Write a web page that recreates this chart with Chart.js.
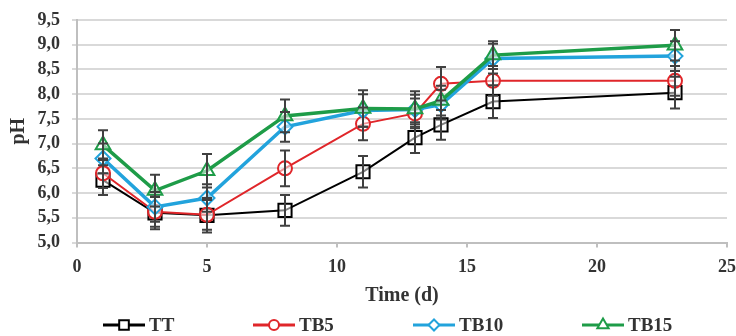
<!DOCTYPE html>
<html><head><meta charset="utf-8">
<script src="https://cdn.jsdelivr.net/npm/chart.js@4"></script>
<style>html,body{margin:0;padding:0;background:#fff}</style>
</head><body>
<canvas id="c" width="736" height="336"></canvas>
<script>
const days = [1, 3, 5, 8, 11, 13, 14, 16, 23];
const seriesNames = ['TT', 'TB5', 'TB10', 'TB15'];
const ttPH   = [6.26, 5.60, 5.55, 5.65, 6.43, 7.12, 7.38, 7.85, 8.03];
const tb5PH  = [6.40, 5.62, 5.56, 6.50, 7.40, 7.61, 8.21, 8.27, 8.27];
const tb10PH = [6.70, 5.72, 5.90, 7.34, 7.67, 7.69, 7.79, 8.72, 8.77];
const tb15PH = [6.97, 6.05, 6.45, 7.56, 7.71, 7.70, 7.87, 8.79, 8.99];
const ttErr   = [0.30, 0.33, 0.35, 0.31, 0.32, 0.31, 0.30, 0.33, 0.32];
const tb5Err  = [0.30, 0.30, 0.30, 0.36, 0.33, 0.30, 0.34, 0.30, 0.30];
const tb10Err = [0.30, 0.30, 0.28, 0.30, 0.33, 0.30, 0.30, 0.30, 0.30];
const tb15Err = [0.30, 0.32, 0.34, 0.33, 0.37, 0.36, 0.30, 0.28, 0.31];
const yTicks = [5.0, 5.5, 6.0, 6.5, 7.0, 7.5, 8.0, 8.5, 9.0, 9.5];

const FONT = "'Liberation Serif','Times New Roman',serif";
const TXT = '#333333';

const styles = [
  {color: '#000000', width: 2,   point: 'rect',     radius: 9.3, legR: 6.8},
  {color: '#e0262a', width: 2,   point: 'circle',   radius: 7,   legR: 5},
  {color: '#22a3dc', width: 3.5, point: 'rectRot',  radius: 7.5, legR: 5.5},
  {color: '#1e9c48', width: 3.5, point: 'triangle', radius: 8.5, legR: 6.5}
];
const values = [ttPH, tb5PH, tb10PH, tb15PH];
const errors = [ttErr, tb5Err, tb10Err, tb15Err];

const datasets = seriesNames.map((name, k) => ({
  label: name,
  data: days.map((d, i) => ({x: d, y: values[k][i]})),
  errors: errors[k],
  borderColor: styles[k].color,
  borderWidth: styles[k].width,
  pointStyle: styles[k].point,
  pointRadius: styles[k].radius,
  pointBorderWidth: 2,
  pointBorderColor: styles[k].color,
  pointBackgroundColor: 'rgba(255,255,255,0.5)',
  tension: 0,
  fill: false,
  order: 4 - k
}));

const stretchRight = {
  id: 'stretchRight',
  afterLayout(chart) {
    const a = chart.chartArea, xs = chart.scales.x;
    const r = chart.width - 9;
    a.right = r; a.width = r - a.left;
    xs.right = r; xs.width = r - xs.left;
    xs.configure();
  }
};

const errorBars = {
  id: 'errorBars',
  afterDatasetsDraw(chart) {
    const ctx = chart.ctx, xs = chart.scales.x, ys = chart.scales.y;
    ctx.save();
    ctx.strokeStyle = '#404040';
    ctx.lineWidth = 2;
    chart.data.datasets.forEach(ds => {
      ds.data.forEach((p, i) => {
        const e = ds.errors[i];
        const px = xs.getPixelForValue(p.x);
        const t = ys.getPixelForValue(p.y + e);
        const b = ys.getPixelForValue(p.y - e);
        ctx.beginPath();
        ctx.moveTo(px, t); ctx.lineTo(px, b);
        ctx.moveTo(px - 5, t); ctx.lineTo(px + 5, t);
        ctx.moveTo(px - 5, b); ctx.lineTo(px + 5, b);
        ctx.stroke();
      });
    });
    ctx.restore();
  }
};

const legendStarts = [103, 253, 413, 582];
const customLegend = {
  id: 'customLegend',
  afterDraw(chart) {
    const ctx = chart.ctx;
    const cy = 325;
    ctx.save();
    ctx.font = 'bold 19px ' + FONT;
    ctx.textBaseline = 'middle';
    seriesNames.forEach((name, k) => {
      const s = styles[k];
      const x0 = legendStarts[k];
      ctx.strokeStyle = s.color;
      ctx.lineWidth = 3;
      ctx.beginPath(); ctx.moveTo(x0, cy); ctx.lineTo(x0 + 42, cy); ctx.stroke();
      ctx.fillStyle = '#ffffff';
      ctx.lineWidth = 2;
      Chart.helpers.drawPoint(ctx, {pointStyle: s.point, radius: s.legR, rotation: 0, borderWidth: 2}, x0 + 21, cy);
      ctx.fillStyle = TXT;
      ctx.fillText(name, x0 + 46, cy + 1);
    });
    ctx.restore();
  }
};

new Chart(document.getElementById('c'), {
  type: 'line',
  data: {datasets},
  plugins: [stretchRight, errorBars, customLegend],
  options: {
    responsive: false,
    animation: false,
    layout: {padding: {left: 1, right: 0, top: 20, bottom: 28}},
    plugins: {legend: {display: false}, tooltip: {enabled: false}},
    scales: {
      x: {
        type: 'linear', min: 0, max: 25,
        afterFit(scale) { scale.height = 65.5; },
        ticks: {stepSize: 5, padding: 9, color: TXT, font: {family: FONT, size: 18, weight: 'bold'}},
        grid: {drawOnChartArea: false, drawTicks: true, tickLength: 5, color: '#bfbfbf', lineWidth: 2},
        border: {color: '#bfbfbf', width: 2},
        title: {display: true, text: 'Time (d)', color: TXT, font: {family: FONT, size: 20, weight: 'bold'}, padding: {top: 0, bottom: 0.5}}
      },
      y: {
        type: 'linear', min: 5, max: 9.5,
        afterFit(scale) { scale.width = 76; scale.paddingTop = 0; scale.paddingBottom = 0; },
        afterBuildTicks(scale) { scale.ticks = yTicks.map(v => ({value: v})); },
        ticks: {autoSkip: false, padding: 12, color: TXT, font: {family: FONT, size: 18, weight: 'bold'},
                callback: v => v.toFixed(1).replace('.', ',')},
        grid: {color: '#d9d9d9', lineWidth: 2, drawTicks: true, tickLength: 5},
        border: {color: '#bfbfbf', width: 2},
        title: {display: true, text: 'pH', color: TXT, font: {family: FONT, size: 20, weight: 'bold'}, padding: {top: 6, bottom: 0}}
      }
    }
  }
});
</script>
</body></html>
